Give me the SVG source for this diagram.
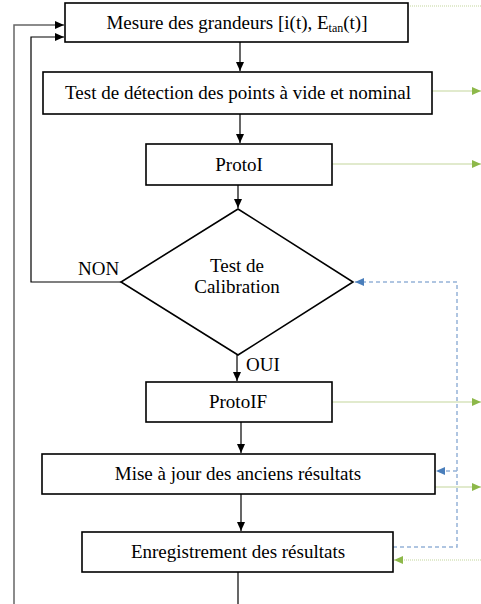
<svg xmlns="http://www.w3.org/2000/svg" width="481" height="604" viewBox="0 0 481 604">
<defs>
<style>
.box{fill:#fff;stroke:#000;stroke-width:1.6}
.t{font-family:"Liberation Serif","Times New Roman",serif;font-size:19px;fill:#000;text-anchor:middle}
.lbl{font-family:"Liberation Serif","Times New Roman",serif;font-size:19px;fill:#000}
.k{fill:none;stroke:#000;stroke-width:1.2}
.g{fill:none;stroke:#c3d69b;stroke-width:1.2}
.b{fill:none;stroke:#95b3d7;stroke-width:1.5;stroke-dasharray:4,3}
</style>
<marker id="ak" markerWidth="10" markerHeight="10" refX="9" refY="5" orient="auto" markerUnits="userSpaceOnUse"><path d="M0,1 L9,5 L0,9 Z" fill="#000"/></marker>
<marker id="ag" markerWidth="10" markerHeight="10" refX="9" refY="5" orient="auto" markerUnits="userSpaceOnUse"><path d="M0,1 L9,5 L0,9 Z" fill="#8db849"/></marker>
<marker id="ab" markerWidth="10" markerHeight="10" refX="9" refY="5" orient="auto" markerUnits="userSpaceOnUse"><path d="M0,1 L9,5 L0,9 Z" fill="#4a7ebb"/></marker>
</defs>
<g id="connectors">
<path class="k" d="M240,42 V71" marker-end="url(#ak)"/>
<path class="k" d="M240,114 V143" marker-end="url(#ak)"/>
<path class="k" d="M238,185 V208" marker-end="url(#ak)"/>
<path class="k" d="M237,355 V381" marker-end="url(#ak)"/>
<path class="k" d="M241,422 V453" marker-end="url(#ak)"/>
<path class="k" d="M241,494 V531" marker-end="url(#ak)"/>
<path class="k" d="M238,572 V604"/>
<path class="k" d="M121,282 H31 V37 H64" marker-end="url(#ak)"/>
<path fill="none" stroke="#666" stroke-width="1.5" d="M14,604 V25 H64" marker-end="url(#ak)"/>
<path d="M408,6 H481" fill="none" stroke="#c3d69b" stroke-width="1.2" stroke-dasharray="1,1"/>
<path class="g" d="M432,91 H481" marker-end="url(#ag)"/>
<path class="g" d="M332,164 H481" marker-end="url(#ag)"/>
<path class="g" d="M332,402 H481" marker-end="url(#ag)"/>
<path class="g" d="M435,487 H481" marker-end="url(#ag)"/>
<path d="M481,560 H394" fill="none" stroke="#c3d69b" stroke-width="1.2" stroke-dasharray="1,1" marker-end="url(#ag)"/>
<path class="b" d="M393,547 H457 V282 H355" marker-end="url(#ab)"/>
<path class="b" d="M457,471 H436" marker-end="url(#ab)"/>
<text class="lbl" x="78" y="275">NON</text>
<text class="lbl" x="246" y="371">OUI</text>
</g>
<g id="n1"><rect class="box" x="65" y="3" width="343" height="39"/><text class="t" x="237" y="29">Mesure des grandeurs [i(t), E<tspan font-size="12" dy="3">tan</tspan><tspan dy="-3">(t)]</tspan></text></g>
<g id="n2"><rect class="box" x="43" y="72" width="389" height="42"/><text class="t" x="238" y="99">Test de détection des points à vide et nominal</text></g>
<g id="n3"><rect class="box" x="146" y="144" width="186" height="41"/><text class="t" x="239" y="171">ProtoI</text></g>
<g id="n4"><path class="box" d="M238,209 L353,282 L238,355 L121,282 Z"/><text class="t" x="237" y="272">Test de</text><text class="t" x="237" y="293">Calibration</text></g>
<g id="n5"><rect class="box" x="146" y="382" width="186" height="40"/><text class="t" x="238" y="408">ProtoIF</text></g>
<g id="n6"><rect class="box" x="42" y="454" width="393" height="40"/><text class="t" x="238" y="480">Mise à jour des anciens résultats</text></g>
<g id="n7"><rect class="box" x="82" y="532" width="311" height="40"/><text class="t" x="238" y="558">Enregistrement des résultats</text></g>
</svg>
